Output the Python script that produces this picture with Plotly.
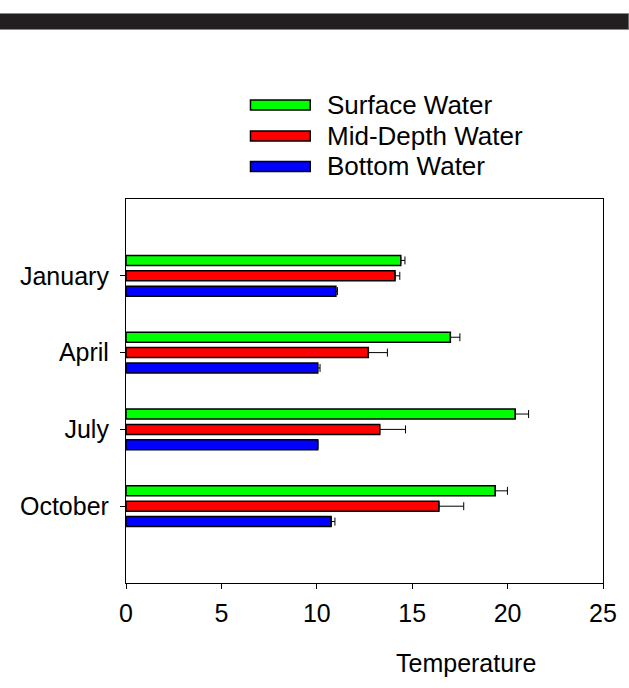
import plotly.graph_objects as go

# Seasonal water temperatures by depth
months = ["January", "April", "July", "October"]
series_names = ["Surface Water", "Mid-Depth Water", "Bottom Water"]
surface = [14.4, 17.0, 20.4, 19.35]
mid_depth = [14.1, 12.7, 13.3, 16.4]
bottom = [11.0, 10.05, 10.05, 10.75]
surface_err = [0.22, 0.5, 0.7, 0.64]
mid_depth_err = [0.25, 1.0, 1.35, 1.3]
bottom_err = [0.08, 0.12, 0.0, 0.2]
x_ticks = [0, 5, 10, 15, 20, 25]

colors = ["#00FF00", "#FF0000", "#0000FF"]
FONT = "Liberation Sans, Arial, sans-serif"

W, H = 629, 688
ML, MR, MT, MB = 126, 24, 199, 105
PW, PH = W - ML - MR, H - MT - MB


def px(x):
    return (x - ML) / PW


def py(y):
    return (H - MB - y) / PH


fig = go.Figure()
for name, vals, errs, col in zip(series_names,
                                 [surface, mid_depth, bottom],
                                 [surface_err, mid_depth_err, bottom_err],
                                 colors):
    fig.add_trace(go.Bar(
        y=months, x=vals, orientation="h", name=name,
        marker=dict(color=col, line=dict(color="black", width=1.5)),
        error_x=dict(type="data", symmetric=False, array=errs,
                     arrayminus=[0] * len(errs), color="black",
                     thickness=1, width=4),
        showlegend=False,
    ))

shapes = [
    # dark banner across the top
    dict(type="rect", xref="paper", yref="paper",
         x0=px(-2), x1=px(W + 2), y0=py(29.5), y1=py(13.5),
         fillcolor="#231f20", line=dict(color="#8a8a8a", width=1)),
]
annotations = []
legend_rows = [105, 136, 166.5]
for name, col, yc in zip(series_names, colors, legend_rows):
    shapes.append(dict(type="rect", xref="paper", yref="paper",
                       x0=px(251), x1=px(311), y0=py(yc + 5), y1=py(yc - 5),
                       fillcolor=col, line=dict(color="black", width=1.5)))
    annotations.append(dict(text=name, xref="paper", yref="paper",
                            x=px(326), y=py(yc), xanchor="left",
                            yanchor="middle", showarrow=False,
                            font=dict(family=FONT, size=26, color="black")))

annotations.append(dict(text="Temperature", xref="paper", yref="paper",
                        x=px(467), y=py(663), xanchor="center",
                        yanchor="middle", showarrow=False,
                        font=dict(family=FONT, size=25, color="black")))

fig.update_layout(
    width=W, height=H,
    margin=dict(l=ML, r=MR, t=MT, b=MB),
    paper_bgcolor="white", plot_bgcolor="white",
    barmode="group", bargap=0.4, bargroupgap=0.35,
    font=dict(family=FONT, size=25, color="black"),
    shapes=shapes, annotations=annotations,
    xaxis=dict(range=[0, 25], tickvals=x_ticks, showgrid=False,
               zeroline=False, showline=True, linecolor="black",
               linewidth=1.2, mirror=True, ticks="outside", ticklen=5,
               tickcolor="black", ticklabelstandoff=3,
               tickfont=dict(size=25)),
    yaxis=dict(categoryorder="array", categoryarray=months,
               range=[len(months), -1], showgrid=False, zeroline=False,
               showline=True, linecolor="black", linewidth=1.2,
               mirror=True, ticks="outside", ticklen=5, tickcolor="black",
               ticklabelstandoff=6, tickfont=dict(size=25)),
)

fig.write_html("out.html")
